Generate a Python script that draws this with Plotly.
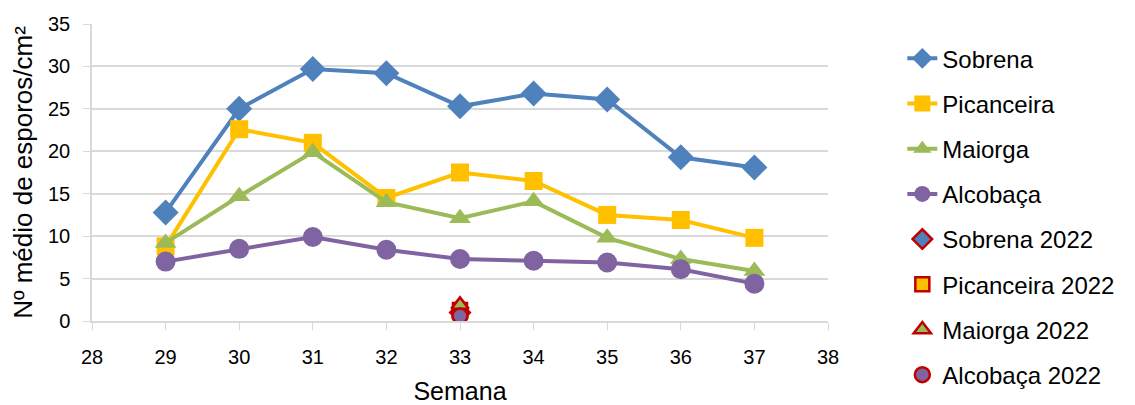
import plotly.graph_objects as go

semanas = [29, 30, 31, 32, 33, 34, 35, 36, 37]
sobrena = [12.8, 25.0, 29.7, 29.2, 25.3, 26.8, 26.1, 19.3, 18.1]
picanceira = [8.8, 22.6, 21.0, 14.5, 17.5, 16.5, 12.5, 11.9, 9.8]
maiorga = [9.2, 14.7, 19.9, 14.0, 12.1, 14.1, 9.8, 7.3, 5.9]
alcobaca = [7.0, 8.5, 9.9, 8.4, 7.3, 7.1, 6.9, 6.1, 4.4]

semana_2022 = [33]
sobrena_2022 = [1.0]
picanceira_2022 = [1.3]
maiorga_2022 = [1.9]
alcobaca_2022 = [0.6]

blue = "#4F81BD"
yellow = "#FFC000"
green = "#9BBB59"
purple = "#8064A2"
red = "#C00000"

fig = go.Figure()
series = [
    ("Sobrena", sobrena, blue, "diamond", 20),
    ("Picanceira", picanceira, yellow, "square", 18),
    ("Maiorga", maiorga, green, "triangle-up", 19),
    ("Alcobaça", alcobaca, purple, "circle", 20),
]
for i, (name, vals, col, sym, sz) in enumerate(series):
    fig.add_trace(go.Scatter(
        x=semanas, y=vals, name=name, mode="lines+markers",
        line=dict(color=col, width=4),
        marker=dict(symbol=sym, size=sz, color=col),
        legendgroup=f"g{i}",
    ))

pts = [
    ("Sobrena 2022", sobrena_2022, blue, "diamond", 15),
    ("Picanceira 2022", picanceira_2022, yellow, "square", 14),
    ("Maiorga 2022", maiorga_2022, green, "triangle-up", 15),
    ("Alcobaça 2022", alcobaca_2022, purple, "circle", 15),
]
for i, (name, vals, col, sym, sz) in enumerate(pts):
    fig.add_trace(go.Scatter(
        x=semana_2022, y=vals, name=name, mode="markers",
        marker=dict(symbol=sym, size=sz, color=col, line=dict(color=red, width=2.5)),
        legendgroup=f"h{i}",
    ))

fig.update_layout(
    width=1135, height=405,
    margin=dict(l=92, r=307, t=24, b=84, autoexpand=False),
    paper_bgcolor="white", plot_bgcolor="white",
    font=dict(family="Liberation Sans, Arial, sans-serif", color="#000000"),
    showlegend=True,
    legend=dict(
        xref="container", yref="container",
        x=0.795, y=0.465, xanchor="left", yanchor="middle",
        font=dict(size=24, color="#000000"),
        tracegroupgap=11,
        itemwidth=30,
        maxheight=405,
        bgcolor="rgba(0,0,0,0)",
    ),
    xaxis=dict(
        range=[28, 38], dtick=1, tick0=28,
        showgrid=False, zeroline=False, automargin=False,
        showline=True, linecolor="#D9D9D9", linewidth=1.5,
        ticks="outside", ticklen=7, tickcolor="#D9D9D9",
        tickfont=dict(size=20), ticklabelstandoff=10,
        title=dict(text="Semana", font=dict(size=25), standoff=16),
    ),
    yaxis=dict(
        range=[0, 35], dtick=5,
        showgrid=True, gridcolor="#D9D9D9", gridwidth=1.5,
        zeroline=False, automargin=False,
        showline=True, linecolor="#D9D9D9", linewidth=1.5,
        ticks="outside", ticklen=7, tickcolor="#D9D9D9",
        tickfont=dict(size=20), ticklabelstandoff=9,
        title=dict(text="Nº médio de esporos/cm²", font=dict(size=26), standoff=8),
    ),
)

fig.write_html("out.html", config={"displayModeBar": False},
               post_script="document.body.style.margin='0';")
